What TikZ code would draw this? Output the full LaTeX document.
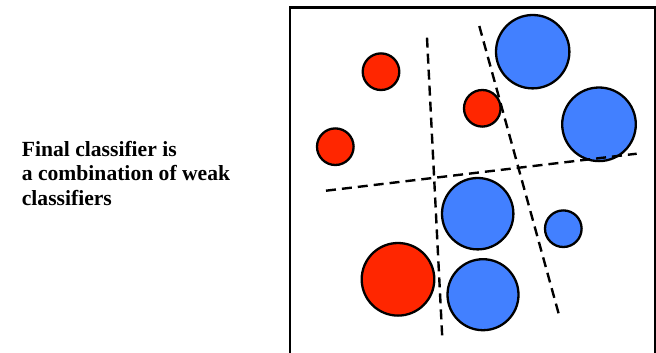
\documentclass[tikz,border=0pt]{standalone}
\usepackage{fontspec}
\setmainfont{Liberation Serif}
\definecolor{redfill}{RGB}{255,38,0}
\definecolor{bluefill}{RGB}{66,128,255}
\begin{document}
\begin{tikzpicture}[x=1pt,y=-1pt,
  dot/.style={circle,draw=black,line width=2.3pt,inner sep=0pt,minimum size=#1},
  reddot/.style={dot=#1,fill=redfill},
  bluedot/.style={dot=#1,fill=bluefill},
  weak/.style={draw=black,line width=2.4pt,dash pattern=on 10pt off 6pt},
  frame/.style={draw=black,line width=2.6pt},
  label/.style={anchor=north west,inner sep=0pt,align=left,
    font=\fontsize{21.6}{24.5}\selectfont\bfseries}]
\useasboundingbox (0,0) rectangle (656,353);
\fill[white] (0,0) rectangle (656,353);
% frame
\draw[frame] (290,360) -- (290,7.5) -- (655,7.5) -- (655,360);
% text
\node[label] (txt) at (21.7,141) {Final classifier is\\a combination of weak\\classifiers};
% circles
\node[reddot=36.6pt] (r1) at (381,71.7) {};
\node[reddot=36.6pt] (r2) at (482.3,108.3) {};
\node[reddot=36.6pt] (r3) at (335.3,146.7) {};
\node[reddot=72.6pt] (r4) at (398,279.3) {};
\node[bluedot=73.4pt] (b1) at (532.7,51.7) {};
\node[bluedot=73.6pt] (b2) at (599,124.3) {};
\node[bluedot=71.4pt] (b3) at (477.7,213.7) {};
\node[bluedot=36.6pt] (b4) at (563.3,228.7) {};
\node[bluedot=71pt] (b5) at (483,294.7) {};
% weak classifiers
\draw[weak] (427,37.7) -- (442.3,338.3);
\draw[weak] (479.3,26) -- (559.3,316);
\draw[weak] (326,190.7) -- (636.7,153.7);
\end{tikzpicture}
\end{document}
